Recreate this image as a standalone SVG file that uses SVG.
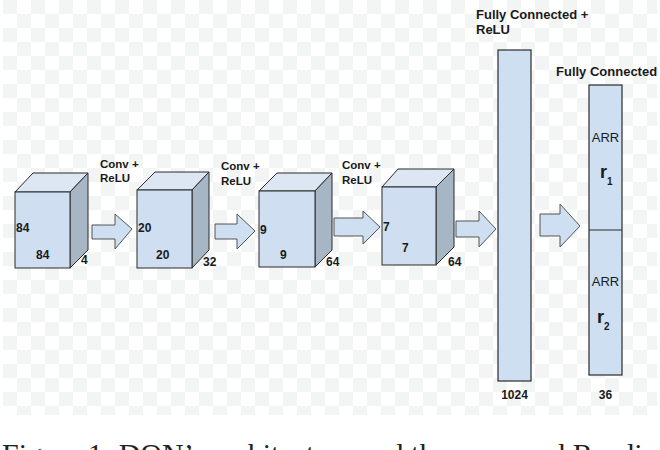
<svg xmlns="http://www.w3.org/2000/svg" width="660" height="450" viewBox="0 0 660 450">
<defs>
<pattern id="chk" x="3" y="0" width="28" height="28" patternUnits="userSpaceOnUse">
<rect width="28" height="28" fill="#ffffff"/>
<rect x="0" y="0" width="14" height="14" fill="#f3f4f4"/>
<rect x="14" y="14" width="14" height="14" fill="#f3f4f4"/>
</pattern>
</defs>
<style>
.front{fill:#cfdef0;stroke:#2a2a2a;stroke-width:1}
.top{fill:#dce7f3;stroke:#2a2a2a;stroke-width:1}
.side{fill:#a7b6c5;stroke:#2a2a2a;stroke-width:1}
.bar{fill:#cddff1;stroke:#2a2a2a;stroke-width:1.2}
.arrow{fill:#cddff1;stroke:#555;stroke-width:1}
.lbl{font-family:"Liberation Sans",Arial,sans-serif;font-weight:bold;font-size:12px;fill:#1a1a1a}
.big{font-family:"Liberation Sans",Arial,sans-serif;font-weight:bold;font-size:18px;fill:#1a1a1a}
.sub{font-family:"Liberation Sans",Arial,sans-serif;font-weight:bold;font-size:10px;fill:#1a1a1a}
.hd{font-family:"Liberation Sans",Arial,sans-serif;font-weight:bold;font-size:11.5px;fill:#1a1a1a}
.hd2{font-family:"Liberation Sans",Arial,sans-serif;font-weight:bold;font-size:13px;fill:#1a1a1a}
.arr{font-family:"Liberation Sans",Arial,sans-serif;font-size:13px;fill:#1a1a1a}
.cap{font-family:"Liberation Serif","Times New Roman",serif;font-size:30px;fill:#222}
</style>
<rect x="3" y="0" width="654" height="415" fill="url(#chk)"/>

<g id="cube1">
<polygon class="top" points="15,192 33,173 88,173 70,192"/>
<polygon class="side" points="70,192 88,173 88,250 70,268"/>
<rect class="front" x="15" y="192" width="55" height="76"/>
<text class="lbl" x="16" y="232">84</text>
<text class="lbl" x="36" y="259">84</text>
<text class="lbl" x="81" y="264">4</text>
</g>

<g id="cube2">
<polygon class="top" points="137,190 155,172 209,172 192,190"/>
<polygon class="side" points="192,190 209,172 209,250 192,268"/>
<rect class="front" x="137" y="190" width="55" height="78"/>
<text class="lbl" x="138" y="232">20</text>
<text class="lbl" x="156" y="259">20</text>
<text class="lbl" x="203" y="266">32</text>
</g>

<g id="cube3">
<polygon class="top" points="259,191 277,173 332,173 315,191"/>
<polygon class="side" points="315,191 332,173 332,250 315,267"/>
<rect class="front" x="259" y="191" width="56" height="76"/>
<text class="lbl" x="260" y="234">9</text>
<text class="lbl" x="280" y="259">9</text>
<text class="lbl" x="326" y="266">64</text>
</g>

<g id="cube4">
<polygon class="top" points="382,187 398,169 454,169 436,187"/>
<polygon class="side" points="436,187 454,169 454,247 436,265"/>
<rect class="front" x="382" y="187" width="54" height="78"/>
<text class="lbl" x="383" y="231">7</text>
<text class="lbl" x="402" y="252">7</text>
<text class="lbl" x="448" y="266">64</text>
</g>

<g id="fc1">
<rect class="bar" x="498" y="50" width="33" height="331"/>
<text class="hd2" x="476" y="19">Fully Connected +</text>
<text class="hd2" x="476" y="34">ReLU</text>
<text class="lbl" x="514.5" y="399" text-anchor="middle">1024</text>
</g>

<g id="fc2">
<rect class="bar" x="589" y="85" width="33" height="290"/>
<line x1="589" y1="230" x2="622" y2="230" stroke="#2a2a2a" stroke-width="1.2"/>
<text class="hd2" x="556" y="76">Fully Connected</text>
<text class="arr" x="605.5" y="142" text-anchor="middle">ARR</text>
<text class="big" x="600" y="178">r</text>
<text class="sub" x="607" y="185">1</text>
<text class="arr" x="605.5" y="286" text-anchor="middle">ARR</text>
<text class="big" x="597" y="323">r</text>
<text class="sub" x="604" y="330">2</text>
<text class="lbl" x="605.5" y="399" text-anchor="middle">36</text>
</g>

<g id="connectors">
<polygon class="arrow" points="92,225 115,225 115,214 132,229 115,249 115,239 92,239"/>
<polygon class="arrow" points="215,224 237,224 237,214 255,231 237,249 237,239 215,239"/>
<polygon class="arrow" points="334,218 363,218 363,211 380,227 363,244 363,236 334,236"/>
<polygon class="arrow" points="456,221 479,221 479,211 496,229 479,247 479,237 456,237"/>
<polygon class="arrow" points="540,214 560,214 560,204 580,226 560,247 560,236 540,236"/>
</g>

<g id="labels">
<text class="hd" x="100" y="168">Conv  +</text>
<text class="hd" x="100" y="182">ReLU</text>
<text class="hd" x="221" y="170">Conv  +</text>
<text class="hd" x="221" y="185">ReLU</text>
<text class="hd" x="342" y="169">Conv  +</text>
<text class="hd" x="342" y="184">ReLU</text>
</g>

<text class="cap" x="2" y="464">Figure 1: DQN’s architecture and the proposed Reading</text>
</svg>
